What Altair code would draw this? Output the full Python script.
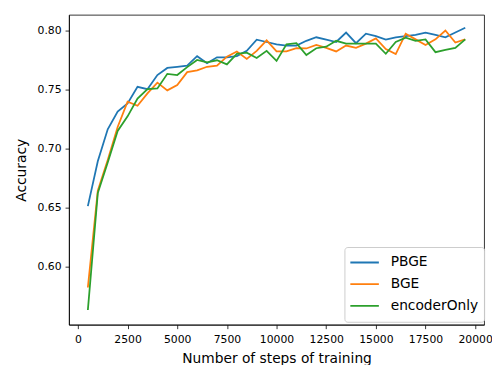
import altair as alt
import pandas as pd

steps = [500, 1000, 1500, 2000, 2500, 3000, 3500, 4000, 4500, 5000,
         5500, 6000, 6500, 7000, 7500, 8000, 8500, 9000, 9500, 10000,
         10500, 11000, 11500, 12000, 12500, 13000, 13500, 14000, 14500, 15000,
         15500, 16000, 16500, 17000, 17500, 18000, 18500, 19000, 19500]

pbge = [0.651, 0.689, 0.716, 0.731, 0.738, 0.752, 0.750, 0.762, 0.768, 0.769,
        0.770, 0.778, 0.772, 0.777, 0.777, 0.778, 0.7825, 0.792, 0.790, 0.788,
        0.787, 0.787, 0.791, 0.794, 0.792, 0.790, 0.798, 0.789, 0.797, 0.795,
        0.792, 0.794, 0.795, 0.796, 0.798, 0.796, 0.794, 0.798, 0.802]

bge = [0.582, 0.664, 0.690, 0.718, 0.7395, 0.736, 0.7465, 0.7556, 0.749, 0.7535,
       0.7645, 0.766, 0.769, 0.770, 0.7776, 0.782, 0.7756, 0.7825, 0.7914, 0.782,
       0.782, 0.7847, 0.7845, 0.7875, 0.785, 0.782, 0.787, 0.785, 0.7886, 0.793,
       0.784, 0.7797, 0.797, 0.7922, 0.7875, 0.7922, 0.7997, 0.7895, 0.7922]

encoder_only = [0.563, 0.662, 0.688, 0.7147, 0.727, 0.742, 0.750, 0.7507, 0.763, 0.762,
                0.7687, 0.7748, 0.7728, 0.7745, 0.771, 0.780, 0.781, 0.7764, 0.7825, 0.774,
                0.788, 0.789, 0.779, 0.7847, 0.786, 0.791, 0.7886, 0.7886, 0.7886, 0.7886,
                0.780, 0.790, 0.7936, 0.791, 0.7922, 0.7814, 0.7834, 0.785, 0.7922]

series_names = ["PBGE", "BGE", "encoderOnly"]
series_colors = ["#1f77b4", "#ff7f0e", "#2ca02c"]
x_ticks = [0, 2500, 5000, 7500, 10000, 12500, 15000, 17500, 20000]
y_ticks = [0.60, 0.65, 0.70, 0.75, 0.80]

rows = []
for name, vals in zip(series_names, [pbge, bge, encoder_only]):
    for s, v in zip(steps, vals):
        rows.append({"step": s, "accuracy": v, "model": name})
df = pd.DataFrame(rows)

x = alt.X("step:Q",
          scale=alt.Scale(domain=[-450, 20450], nice=False, zero=False),
          axis=alt.Axis(values=x_ticks, format="d", title="Number of steps of training",
                        labelPadding=5, titlePadding=7))
y = alt.Y("accuracy:Q",
          scale=alt.Scale(domain=[0.5505, 0.813], nice=False, zero=False),
          axis=alt.Axis(values=y_ticks, format=".2f", title="Accuracy",
                        labelPadding=4, titlePadding=9))
color = alt.Color("model:N", title=None,
                  scale=alt.Scale(domain=series_names, range=series_colors),
                  legend=alt.Legend(orient="none", legendX=280, legendY=236,
                                    symbolType="stroke", symbolSize=841,
                                    symbolStrokeWidth=1.8, labelFontSize=14,
                                    labelFont="DejaVu Sans", labelColor="#000",
                                    clipHeight=21.5, padding=5, rowPadding=0,
                                    labelOffset=11, strokeColor="#cccccc",
                                    fillColor="rgba(255,255,255,0.8)",
                                    cornerRadius=3))

base = alt.Chart(df).mark_line(strokeWidth=1.8).encode(x=x, y=y, color=color)
layers = [base.transform_filter(alt.datum.model == n) for n in series_names]

chart = alt.layer(*layers).properties(
    width=422, height=315,
    padding={"left": 62, "top": 4, "right": 8, "bottom": 38},
    autosize=alt.AutoSizeParams(type="none"),
).configure_view(
    stroke="#000", strokeWidth=0.8
).configure_axis(
    grid=False, labelFont="DejaVu Sans", titleFont="DejaVu Sans",
    labelFontSize=11, titleFontSize=14, titleFontWeight="normal",
    labelColor="#000", titleColor="#000", tickColor="#000", domainColor="#000",
    tickSize=4, tickWidth=0.8, domainWidth=0.8
)

chart.save("out.html", embed_options={"renderer": "svg", "actions": False})
